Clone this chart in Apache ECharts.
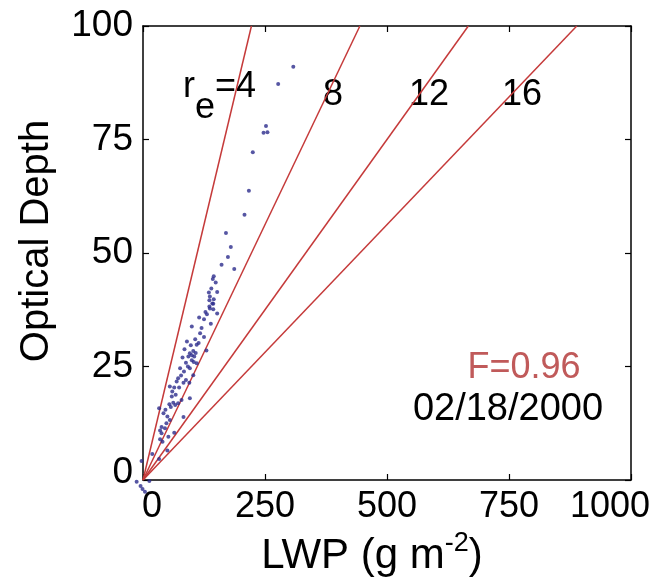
<!DOCTYPE html>
<html>
<head>
<meta charset="utf-8">
<script src="https://cdn.jsdelivr.net/npm/echarts@6/dist/echarts.min.js"></script>
<style>
  html, body { margin: 0; padding: 0; background: #fff; }
  #chart { width: 655px; height: 583px; }
</style>
</head>
<body>
<div id="chart"></div>
<script>
// Liquid water path (g m^-2) and optical depth of each retrieval
const lwp = [
  308, 277, 252, 247, 255, 225, 217,
  208, 170, 180, 174, 161, 187, 145, 143, 149, 135, 152, 137, 145, 136, 142, 136,
  144, 137, 144, 152, 125, 139, 100, 117, 107, 114, 98, 110, 103, 130, 96, 100, 93,
  105, 81, 100, 104, 88, 110, 76, 96, 84, 103, 72, 88, 69, 83, 95, 64, 74,
  55, 59, 62, 54, 57, 66, 72, 79, 96, 33, 42, 83, 55, 48, 38, 45, 35, 38, 52, 35,
  40, 64, 50, 19, 33, -3, -13, -5, -1, 13, 4,
  90, 85, 120, 128, 115, 60, 78, 92, 108, 67, 46, 50, 125, 140, 131
];
const tau = [
  91.0, 87.2, 78.0, 76.5, 76.6, 72.2, 63.7,
  58.4, 54.4, 51.3, 49.1, 47.4, 46.5, 44.9, 44.3, 43.5, 41.3, 41.4, 40.4, 39.8, 39.6, 38.9, 38.2,
  38.8, 37.8, 37.6, 36.7, 35.4, 34.4, 33.8, 32.3, 31.0, 30.2, 29.7, 29.8, 28.4, 28.5, 27.9, 27.5, 27.2,
  27.2, 27.0, 26.4, 26.0, 25.8, 25.7, 24.6, 24.6, 23.9, 23.1, 22.4, 22.0, 21.7, 21.4, 21.4, 20.4, 20.4,
  20.6, 18.4, 17.0, 16.7, 16.1, 16.5, 16.9, 17.6, 18.0, 15.8, 14.7, 13.9, 13.2, 12.5, 11.7, 11.4, 10.9, 10.3, 9.5, 9.0,
  8.4, 10.4, 6.5, 5.7, 4.6, 4.2, -0.4, -1.3, -2.0, -0.2, -2.6,
  30.5, 28.8, 33.5, 37.0, 35.8, 19.5, 23.0, 25.0, 28.0, 18.8, 15.5, 14.0, 31.5, 42.2, 36.5
];

// Effective radius (um) of each reference line: tau = 1.8 * LWP / re
const radii = [4, 8, 12, 16];
const radiusLabels = ['4', '8', '12', '16'];
const xTicks = [0, 250, 500, 750, 1000];
const yTicks = [0, 25, 50, 75, 100];
const fitValue = 'F=0.96';
const dateLabel = '02/18/2000';

const FONT = '"Liberation Sans", Arial, Helvetica, sans-serif';
const LINE_RED = '#c53a3a';
const DOT_BLUE = '#2c2c8c';

const points = lwp.map((v, i) => [v, tau[i]]);
const xMax = xTicks[xTicks.length - 1];
const tauMax = yTicks[yTicks.length - 1];
const lineSeries = radii.map(r => ({
  type: 'line',
  data: [[0, 0], [tauMax * r / 1.8, tauMax]],
  symbol: 'none',
  silent: true,
  lineStyle: { color: LINE_RED, width: 1.5 },
  z: 2
}));

const tickStyle = { show: true, inside: true, length: 6, lineStyle: { color: '#000', width: 1.2 } };
const lineStyle = { show: true, onZero: false, lineStyle: { color: '#000', width: 1.5 } };
const labelRich = (pad) => ({ fontFamily: FONT, fontSize: 36, color: '#000', padding: pad });

const chart = echarts.init(document.getElementById('chart'), null, { renderer: 'canvas' });
chart.setOption({
  backgroundColor: '#fff',
  animation: false,
  grid: { left: 143, top: 26, right: 24, bottom: 103, containLabel: false, outerBoundsMode: 'none' },
  xAxis: [
    {
      type: 'value', min: xTicks[0], max: xMax, interval: 250, position: 'bottom',
      axisLine: lineStyle, axisTick: tickStyle, splitLine: { show: false },
      axisLabel: {
        fontFamily: FONT, fontSize: 36, color: '#000', margin: 9,
        // the end labels sit slightly inward from their ticks
        formatter: v => (v === 0 ? '{z|0}' : v === xMax ? '{e|' + v + '}' : String(v)),
        rich: { z: labelRich([0, 0, 0, 18]), e: labelRich([0, 42, 0, 0]) }
      }
    },
    {
      type: 'value', min: xTicks[0], max: xMax, interval: 250, position: 'top',
      axisLine: lineStyle, axisTick: tickStyle, axisLabel: { show: false }, splitLine: { show: false }
    }
  ],
  yAxis: [
    {
      type: 'value', min: yTicks[0], max: tauMax, interval: 25, position: 'left',
      axisLine: lineStyle, axisTick: tickStyle, splitLine: { show: false },
      axisLabel: {
        fontFamily: FONT, fontSize: 37, color: '#000', margin: 10,
        formatter: v => (v === 0 ? '{z|0}' : String(v)),
        rich: { z: { fontFamily: FONT, fontSize: 37, color: '#000', padding: [0, 0, 14, 0] } }
      }
    },
    {
      type: 'value', min: yTicks[0], max: tauMax, interval: 25, position: 'right',
      axisLine: lineStyle, axisTick: tickStyle, axisLabel: { show: false }, splitLine: { show: false }
    }
  ],
  series: [
    ...lineSeries,
    {
      type: 'scatter',
      data: points,
      symbol: 'circle',
      symbolSize: 4,
      clip: false,
      itemStyle: { color: DOT_BLUE },
      z: 3
    }
  ],
  graphic: [
    {
      type: 'text', x: 37, y: 241, rotation: Math.PI / 2,
      style: { text: 'Optical Depth', font: '40px ' + FONT, fill: '#000', textAlign: 'center', textVerticalAlign: 'middle' }
    },
    {
      type: 'text', x: 372, y: 556,
      style: {
        text: '{a|LWP (g m}{s|-2}{a|)}',
        textAlign: 'center', textVerticalAlign: 'middle',
        rich: {
          a: { fontFamily: FONT, fontSize: 42, fill: '#000', color: '#000' },
          s: { fontFamily: FONT, fontSize: 27, fill: '#000', color: '#000', padding: [0, 0, 24, 0] }
        }
      }
    },
    { type: 'text', x: 183, y: 87, style: { text: 'r', font: '36px ' + FONT, fill: '#000', textAlign: 'left', textVerticalAlign: 'middle' } },
    { type: 'text', x: 195, y: 108, style: { text: 'e', font: '36px ' + FONT, fill: '#000', textAlign: 'left', textVerticalAlign: 'middle' } },
    { type: 'text', x: 215, y: 87, style: { text: '=' + radiusLabels[0], font: '36px ' + FONT, fill: '#000', textAlign: 'left', textVerticalAlign: 'middle' } },
    { type: 'text', x: 333, y: 95, style: { text: radiusLabels[1], font: '36px ' + FONT, fill: '#000', textAlign: 'center', textVerticalAlign: 'middle' } },
    { type: 'text', x: 429, y: 95, style: { text: radiusLabels[2], font: '36px ' + FONT, fill: '#000', textAlign: 'center', textVerticalAlign: 'middle' } },
    { type: 'text', x: 522, y: 95, style: { text: radiusLabels[3], font: '36px ' + FONT, fill: '#000', textAlign: 'center', textVerticalAlign: 'middle' } },
    { type: 'text', x: 524, y: 368, style: { text: fitValue, font: '36px ' + FONT, fill: '#c05a5a', textAlign: 'center', textVerticalAlign: 'middle' } },
    { type: 'text', x: 508, y: 410, style: { text: dateLabel, font: '38px ' + FONT, fill: '#000', textAlign: 'center', textVerticalAlign: 'middle' } }
  ]
});
</script>
</body>
</html>
